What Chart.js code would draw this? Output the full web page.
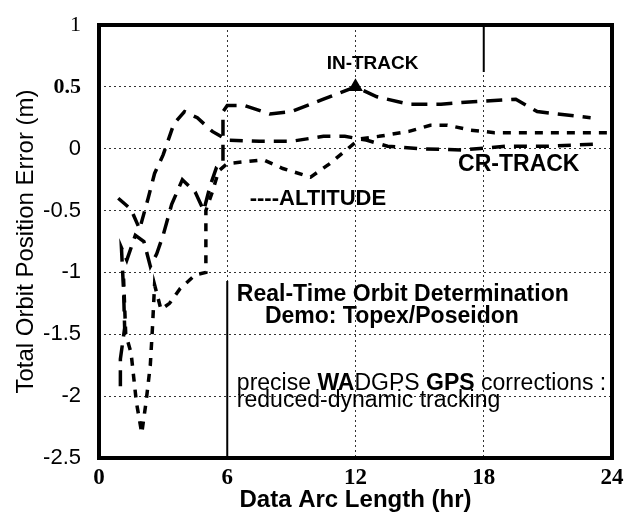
<!DOCTYPE html>
<html lang="en">
<head>
  <title>Real-Time Orbit Determination</title>
  <script src="https://cdn.jsdelivr.net/npm/chart.js"></script>
  <style>
    html, body { margin: 0; padding: 0; background: #fff; }
    #wrap { width: 629px; height: 517px; }
  </style>
</head>
<body>
  <div id="wrap"><canvas id="myChart" width="629" height="517"></canvas></div>
  <script>
    // values (hours, metres)
    const inTrackX = [1.0, 1.0, 1.2, 1.15, 1.05, 1.3, 1.7, 2.1, 2.4, 2.7, 3.0, 3.4, 3.9, 4.5, 4.9, 5.2, 5.5, 5.8, 5.8, 6.0, 6.8, 8.0, 9.0, 10.5, 12.0, 13.0, 14.5, 16.0, 17.5, 19.5, 20.5, 23.0];
    const inTrackY = [-1.92, -1.7, -1.45, -1.15, -0.8, -0.9, -0.7, -0.75, -0.95, -0.85, -0.7, -0.45, -0.25, -0.35, -0.5, -0.3, -0.15, -0.1, 0.3, 0.35, 0.35, 0.28, 0.3, 0.4, 0.5, 0.42, 0.36, 0.36, 0.38, 0.4, 0.3, 0.25];

    const crossX = [0.9, 1.5, 1.9, 2.3, 2.6, 3.0, 3.5, 4.0, 4.6, 5.3, 6.0, 7.5, 9.0, 10.5, 11.5, 12.5, 13.5, 15.0, 17.0, 19.0, 21.0, 23.5];
    const crossY = [-0.4, -0.49, -0.65, -0.4, -0.2, -0.05, 0.2, 0.3, 0.25, 0.14, 0.07, 0.06, 0.06, 0.1, 0.1, 0.07, 0.02, 0.0, -0.01, 0.02, 0.02, 0.04];

    const altX = [1.15, 1.25, 1.5, 1.75, 2.0, 2.2, 2.4, 2.5, 2.6, 2.9, 3.3, 3.8, 4.5, 5.0, 5.0, 5.3, 5.6, 6.0, 7.7, 8.6, 9.9, 10.8, 11.5, 12.2, 13.1, 14.5, 15.5, 16.3, 17.4, 18.5, 24.0];
    const altY = [-1.05, -1.5, -1.65, -2.05, -2.3, -2.05, -1.75, -1.45, -1.1, -1.3, -1.25, -1.13, -1.02, -1.0, -0.5, -0.35, -0.18, -0.12, -0.09, -0.16, -0.23, -0.12, -0.02, 0.08, 0.1, 0.14, 0.19, 0.19, 0.15, 0.13, 0.13];

    const xTicks = [0, 6, 12, 18, 24];
    const yTicks = [1, 0.5, 0, -0.5, -1, -1.5, -2, -2.5];

    function pts(xs, ys) {
      return xs.map((x, i) => ({ x: x, y: ys[i] }));
    }

    const SANS = '"Liberation Sans", Arial, sans-serif';
    const SERIF = '"Liberation Serif", "Times New Roman", serif';

    // frame + the notes written inside the plot
    const notes = {
      id: 'notes',
      afterDatasetsDraw(chart) {
        const { ctx, chartArea: a, scales } = chart;
        const px = v => scales.x.getPixelForValue(v);
        const py = v => scales.y.getPixelForValue(v);
        ctx.save();
        ctx.fillStyle = '#000';
        ctx.textBaseline = 'middle';

        ctx.font = 'bold 19px ' + SANS;
        ctx.textAlign = 'center';
        ctx.fillText('IN-TRACK', px(12.8), py(0.69));
        ctx.textAlign = 'left';
        ctx.font = 'bold 23px ' + SANS;
        ctx.fillText('CR-TRACK', px(16.8), py(-0.13));
        ctx.font = 'bold 22px ' + SANS;
        ctx.fillText('----ALTITUDE', px(7.05), py(-0.41));

        ctx.font = 'bold 23px ' + SANS;
        ctx.fillText('Real-Time Orbit Determination', px(6.45), py(-1.18));
        ctx.textAlign = 'center';
        ctx.fillText('Demo: Topex/Poseidon', px(13.7), py(-1.36));

        // mixed weight line
        ctx.textAlign = 'left';
        const parts = [['precise ', ''], ['WA', 'bold '], ['DGPS ', ''], ['GPS', 'bold '], [' corrections :', '']];
        let cx = px(6.45);
        parts.forEach(p => {
          ctx.font = p[1] + '23px ' + SANS;
          ctx.fillText(p[0], cx, py(-1.9));
          cx += ctx.measureText(p[0]).width;
        });
        ctx.font = '23px ' + SANS;
        ctx.fillText('reduced-dynamic tracking', px(6.45), py(-2.04));

        // solid pieces of the 6 h and 18 h lines
        ctx.strokeStyle = '#000';
        ctx.lineWidth = 2;
        ctx.beginPath();
        ctx.moveTo(px(6), py(-1.07));
        ctx.lineTo(px(6), a.bottom);
        ctx.moveTo(px(18), a.top);
        ctx.lineTo(px(18), py(0.62));
        ctx.stroke();

        // heavy frame
        ctx.lineWidth = 4;
        ctx.strokeRect(a.left, a.top, a.right - a.left, a.bottom - a.top);
        ctx.restore();
      }
    };

    const ctx = document.getElementById('myChart').getContext('2d');
    const myChart = new Chart(ctx, {
      type: 'line',
      data: {
        datasets: [{
          label: 'IN-TRACK',
          data: pts(inTrackX, inTrackY),
          borderColor: '#000',
          borderWidth: 3.5,
          borderDash: [16, 9],
          pointRadius: c => (c.raw && c.raw.x === 12 ? 5 : 0),
          pointStyle: 'triangle',
          pointBackgroundColor: '#000',
          pointBorderColor: '#000',
          tension: 0
        }, {
          label: 'CROSS-TRACK',
          data: pts(crossX, crossY),
          borderColor: '#000',
          borderWidth: 3.5,
          borderDash: [13, 9],
          pointRadius: 0,
          tension: 0
        }, {
          label: 'ALTITUDE',
          data: pts(altX, altY),
          borderColor: '#000',
          borderWidth: 3.5,
          borderDash: [8, 8],
          pointRadius: 0,
          tension: 0
        }]
      },
      options: {
        responsive: false,
        animation: false,
        layout: { padding: { top: 25, right: 17, left: 0, bottom: 0 } },
        plugins: {
          legend: { display: false },
          tooltip: { enabled: false }
        },
        scales: {
          x: {
            type: 'linear',
            min: 0,
            max: 24,
            afterBuildTicks: s => { s.ticks = xTicks.map(v => ({ value: v })); },
            afterFit: s => { s.height = 59; s.paddingLeft = 0; s.paddingRight = 0; },
            border: { display: false, dash: [2, 3] },
            grid: {
              color: '#333',
              lineWidth: 1,
              drawTicks: false
            },
            ticks: {
              padding: 6,
              color: '#000',
              font: { family: SERIF, size: 23, weight: 'bold' },
              callback: v => String(v)
            },
            title: {
              display: true,
              text: 'Data Arc Length (hr)',
              color: '#000',
              font: { family: SANS, size: 24, weight: 'bold' },
              padding: { top: 0, bottom: 2 }
            }
          },
          y: {
            min: -2.5,
            max: 1,
            afterBuildTicks: s => { s.ticks = yTicks.map(v => ({ value: v })); },
            afterFit: s => { s.width = 99; s.paddingTop = 0; s.paddingBottom = 0; },
            border: { display: false, dash: [2, 3] },
            grid: {
              color: '#333',
              lineWidth: 1,
              drawTicks: false
            },
            ticks: {
              padding: 18,
              color: '#000',
              font: c => {
                const v = c.tick ? c.tick.value : 0;
                if (v === 1) return { family: SERIF, size: 22 };
                if (v === 0.5) return { family: SERIF, size: 22, weight: 'bold' };
                return { family: SANS, size: 22 };
              },
              callback: v => String(v)
            },
            title: {
              display: true,
              text: 'Total Orbit Position Error (m)',
              color: '#000',
              font: { family: SANS, size: 24 },
              padding: { top: 12, bottom: 0 }
            }
          }
        }
      },
      plugins: [notes]
    });
  </script>
</body>
</html>
